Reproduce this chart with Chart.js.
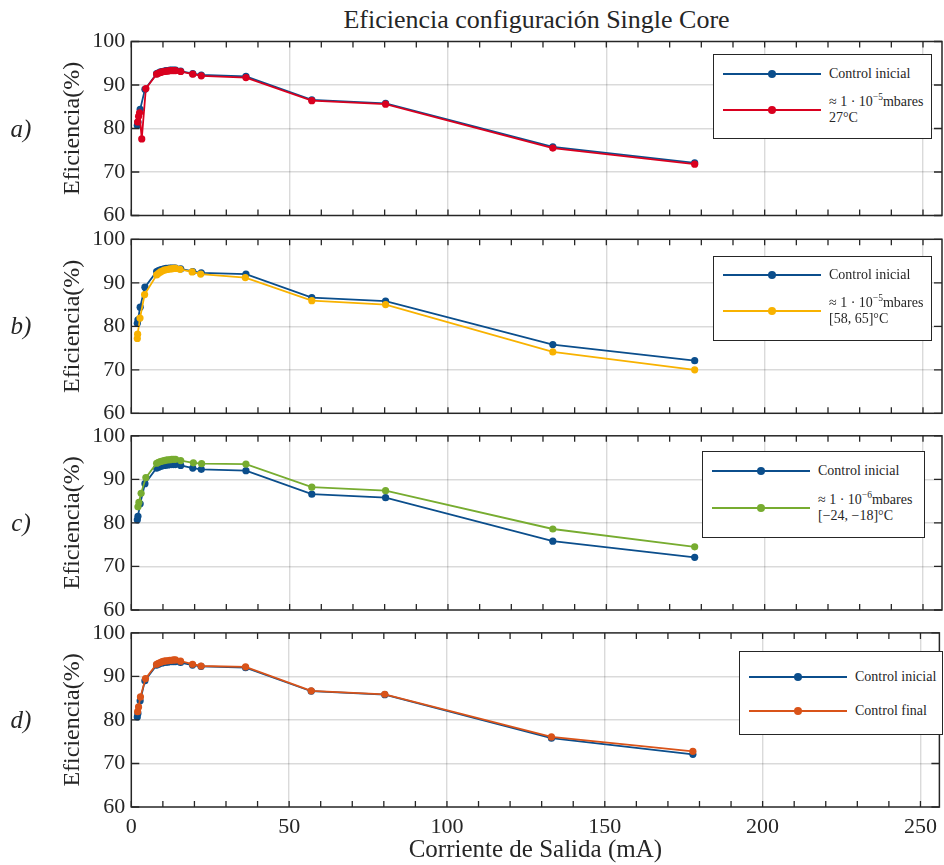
<!DOCTYPE html>
<html lang="es">
<head>
<meta charset="utf-8">
<title>Eficiencia configuración Single Core</title>
<script src="https://cdn.jsdelivr.net/npm/chart.js@4.4.1/dist/chart.umd.min.js"></script>
<style>
  html, body { margin: 0; padding: 0; background: #fff; }
  body { width: 944px; height: 865px; position: relative; overflow: hidden;
         font-family: "Liberation Serif", "Times New Roman", serif; color: #262626; }
  canvas { position: absolute; left: 0; }
  .titulo { position: absolute; left: 131px; width: 811px; top: 4px; text-align: center;
            font-size: 26px; line-height: 32px; }
  .letra { position: absolute; left: 6px; width: 30px; font-style: italic; font-size: 25px;
           line-height: 28px; text-align: center; }
  .leyenda { position: absolute; box-sizing: border-box; border: 1.5px solid #262626; background: #fff; }
  .fila { position: absolute; left: 0; right: 0; height: 40px; }
  .fila .linea { position: absolute; left: 9px; width: 98px; top: 19px; height: 2px; }
  .fila .punto { position: absolute; left: 54px; top: 16px; width: 8px; height: 8px; border-radius: 50%; }
  .fila .texto { position: absolute; left: 115px; top: 0; height: 40px; display: flex; align-items: center;
                 font-size: 14px; line-height: 16px; white-space: nowrap; }
  .texto sup { font-size: 9.5px; line-height: 0; vertical-align: 6px; }
</style>
</head>
<body>
<div class="titulo">Eficiencia configuración Single Core</div>
<script>
(() => {
  "use strict";

// ejes
const xTicks = [0, 10, 20, 30, 40, 50, 60, 70, 80, 90, 100, 110, 120, 130, 140, 150, 160, 170, 180, 190, 200, 210, 220, 230, 240, 250];
const xLabels = [0, 50, 100, 150, 200, 250];
const yTicks = [60, 70, 80, 90, 100];

// Control inicial (igual en los cuatro paneles)
const ctrlX = [1.9, 2.1, 2.8, 4.3, 8.0, 8.6, 9.2, 9.8, 10.4, 11.0, 11.6, 12.2, 12.8, 13.4, 14.0, 15.6, 19.4, 22.1, 36.2, 57.0, 80.3, 133.1, 177.9];
const ctrlY = [80.7, 81.5, 84.4, 89.0, 92.6, 92.8, 93.0, 93.1, 93.2, 93.3, 93.3, 93.4, 93.4, 93.4, 93.4, 93.2, 92.6, 92.3, 92.0, 86.6, 85.8, 75.8, 72.1];

// a) 1e-5 mbares, 27 C
const aX = [2.0, 2.3, 2.6, 3.3, 4.6, 8.0, 8.6, 9.2, 9.8, 10.4, 11.0, 11.6, 12.2, 12.8, 13.4, 14.0, 15.6, 19.4, 22.1, 36.2, 57.0, 80.3, 133.1, 177.9];
const aY = [81.5, 82.8, 83.6, 77.6, 89.2, 92.5, 92.7, 92.9, 93.0, 93.1, 93.2, 93.2, 93.3, 93.3, 93.3, 93.3, 93.1, 92.5, 92.1, 91.7, 86.4, 85.6, 75.5, 71.8];

// b) 1e-5 mbares, [58,65] C
const bX = [1.9, 2.0, 2.75, 4.2, 8.0, 8.6, 9.2, 9.8, 10.4, 11.0, 11.6, 12.2, 12.8, 13.4, 14.0, 15.4, 19.2, 21.9, 36.0, 57.0, 80.3, 133.1, 177.9];
const bY = [77.2, 78.2, 81.9, 87.3, 91.8, 92.2, 92.5, 92.7, 92.9, 93.0, 93.1, 93.2, 93.2, 93.3, 93.3, 93.1, 92.5, 92.0, 91.2, 85.9, 85.0, 74.1, 70.0];

// c) 1e-6 mbares, [-24,-18] C
const cX = [2.1, 2.4, 3.1, 4.6, 8.0, 8.6, 9.2, 9.8, 10.4, 11.0, 11.6, 12.2, 12.8, 13.4, 14.0, 15.6, 19.6, 22.2, 36.2, 57.0, 80.3, 133.1, 177.9];
const cY = [83.7, 84.7, 86.8, 90.4, 93.7, 93.9, 94.1, 94.2, 94.3, 94.4, 94.5, 94.5, 94.6, 94.6, 94.6, 94.3, 93.8, 93.6, 93.5, 88.2, 87.4, 78.6, 74.5];

// d) Control final
const dX = [2.0, 2.3, 2.9, 4.5, 8.0, 8.6, 9.2, 9.8, 10.4, 11.0, 11.6, 12.2, 12.8, 13.4, 14.0, 15.6, 19.4, 22.1, 36.2, 57.0, 80.3, 133.1, 177.9];
const dY = [81.9, 83.0, 85.3, 89.5, 92.8, 93.0, 93.2, 93.4, 93.5, 93.6, 93.6, 93.7, 93.7, 93.8, 93.8, 93.5, 92.8, 92.4, 92.2, 86.7, 85.9, 76.1, 72.8];

const INK = "#262626";
const GRID = "rgba(38,38,38,0.17)";
const AZUL = "#0B4E8C";

const ctrl = { label: "Control inicial", color: AZUL, x: ctrlX, y: ctrlY };

const paneles = [
  { letra: "a)", t: 41.5, b: 215.5,
    serie: { label: "≈ 1 · 10<sup>−5</sup>mbares<br>27°C", color: "#D9001F", x: aX, y: aY },
    ley: { left: 713, top: 54, w: 219, h: 85, r1: 18.7, r2: 55 } },
  { letra: "b)", t: 239.3, b: 413.3,
    serie: { label: "≈ 1 · 10<sup>−5</sup>mbares<br>[58, 65]°C", color: "#F8B200", x: bX, y: bY },
    ley: { left: 713, top: 255.7, w: 219, h: 85, r1: 18.6, r2: 54.6 } },
  { letra: "c)", t: 435.8, b: 610,
    serie: { label: "≈ 1 · 10<sup>−6</sup>mbares<br>[−24, −18]°C", color: "#77AC30", x: cX, y: cY },
    ley: { left: 702, top: 451, w: 223, h: 87, r1: 19.3, r2: 56.3 } },
  { letra: "d)", t: 632.9, b: 807, last: true,
    serie: { label: "Control final", color: "#D95319", x: dX, y: dY },
    ley: { left: 739, top: 650.7, w: 204, h: 84.3, r1: 25.6, r2: 59.3 } }
];

Chart.defaults.font.family = '"Liberation Serif", "Times New Roman", serif';
Chart.defaults.color = INK;

// caja + marcas hacia dentro, como en MATLAB
const marco = {
  id: "marco",
  afterDatasetsDraw(chart) {
    const { ctx, chartArea: a, scales: { x, y } } = chart;
    ctx.save();
    ctx.strokeStyle = INK;
    ctx.lineWidth = 1.3;
    ctx.beginPath();
    x.ticks.forEach(t => {
      const px = x.getPixelForValue(t.value);
      ctx.moveTo(px, a.bottom); ctx.lineTo(px, a.bottom - 6);
      ctx.moveTo(px, a.top); ctx.lineTo(px, a.top + 6);
    });
    y.ticks.forEach(t => {
      const py = y.getPixelForValue(t.value);
      ctx.moveTo(a.left, py); ctx.lineTo(a.left + 8, py);
      ctx.moveTo(a.right, py); ctx.lineTo(a.right - 8, py);
    });
    ctx.stroke();
    ctx.lineWidth = 1.5;
    ctx.strokeRect(a.left, a.top, a.right - a.left, a.bottom - a.top);
    ctx.restore();
  }
};

function toPts(xs, ys) {
  return xs.map((v, i) => ({ x: v, y: ys[i] }));
}

function dataset(s, order) {
  return {
    label: s.label.replace(/<[^>]+>/g, " "),
    data: toPts(s.x, s.y),
    showLine: true,
    borderColor: s.color,
    backgroundColor: s.color,
    pointBackgroundColor: s.color,
    pointBorderWidth: 0,
    pointRadius: 3.6,
    borderWidth: 1.8,
    tension: 0,
    order
  };
}

function makeChart(p) {
  const cv = document.createElement("canvas");
  const top = Math.floor(p.t) - 22;
  // la escala y reserva ~19px bajo el area para la etiqueta "60"
  const bottomSpace = p.last ? 865 - p.b : 21;
  const h = Math.ceil(p.b + bottomSpace - top);
  const xFit = h - (p.b - top);
  cv.width = 944;
  cv.height = h;
  cv.style.top = top + "px";
  document.body.appendChild(cv);

  new Chart(cv, {
    type: "scatter",
    data: { datasets: [dataset(p.serie, 0), dataset(ctrl, 1)] },
    options: {
      responsive: false,
      animation: false,
      events: [],
      layout: { padding: { top: p.t - top, right: 2, left: 0, bottom: 0 }, autoPadding: false },
      plugins: { legend: { display: false }, tooltip: { enabled: false } },
      scales: {
        x: {
          type: "linear", min: 0, max: 256,
          afterBuildTicks: s => { s.ticks = xTicks.map(v => ({ value: v })); },
          afterFit: s => { s.height = xFit; },
          ticks: {
            display: !!p.last, autoSkip: false, maxRotation: 0, padding: 7,
            font: { size: 22 }, color: INK,
            callback: v => xLabels.includes(v) ? String(v) : ""
          },
          grid: {
            color: c => (c.tick && c.tick.value > 0 && xLabels.includes(c.tick.value)) ? GRID : "transparent",
            lineWidth: 1.4, drawTicks: false
          },
          border: { display: false },
          title: {
            display: !!p.last, text: "Corriente de Salida (mA)",
            font: { size: 25 }, color: INK, padding: { top: 0, bottom: 0 }
          }
        },
        y: {
          type: "linear", min: 60, max: 100,
          afterBuildTicks: s => { s.ticks = yTicks.map(v => ({ value: v })); },
          afterFit: s => { s.width = 131.3; },
          ticks: { font: { size: 22 }, color: INK, padding: 6 },
          grid: {
            color: c => (c.tick && c.tick.value > 60 && c.tick.value < 100) ? GRID : "transparent",
            lineWidth: 1.4, drawTicks: false
          },
          border: { display: false },
          title: {
            display: true, text: "Eficiencia(%)",
            font: { size: 24 }, color: INK, padding: { top: 58 }
          }
        }
      }
    },
    plugins: [marco]
  });
}

function makeFila(row, y) {
  const f = document.createElement("div");
  f.className = "fila";
  f.style.top = (y - 20) + "px";
  f.innerHTML = `<div class="linea" style="background:${row.color}"></div>
    <div class="punto" style="background:${row.color}"></div>
    <div class="texto"><span>${row.label}</span></div>`;
  return f;
}

function makeLegend(p) {
  const L = p.ley;
  const box = document.createElement("div");
  box.className = "leyenda";
  box.style.left = L.left + "px";
  box.style.top = L.top + "px";
  box.style.width = L.w + "px";
  box.style.height = L.h + "px";
  box.appendChild(makeFila(ctrl, L.r1));
  box.appendChild(makeFila(p.serie, L.r2));
  document.body.appendChild(box);
}

function makeLetra(p) {
  const d = document.createElement("div");
  d.className = "letra";
  d.textContent = p.letra;
  d.style.top = ((p.t + p.b) / 2 - 14) + "px";
  document.body.appendChild(d);
}

paneles.forEach(p => {
  makeChart(p);
  makeLegend(p);
  makeLetra(p);
});
})();
</script>
</body>
</html>
